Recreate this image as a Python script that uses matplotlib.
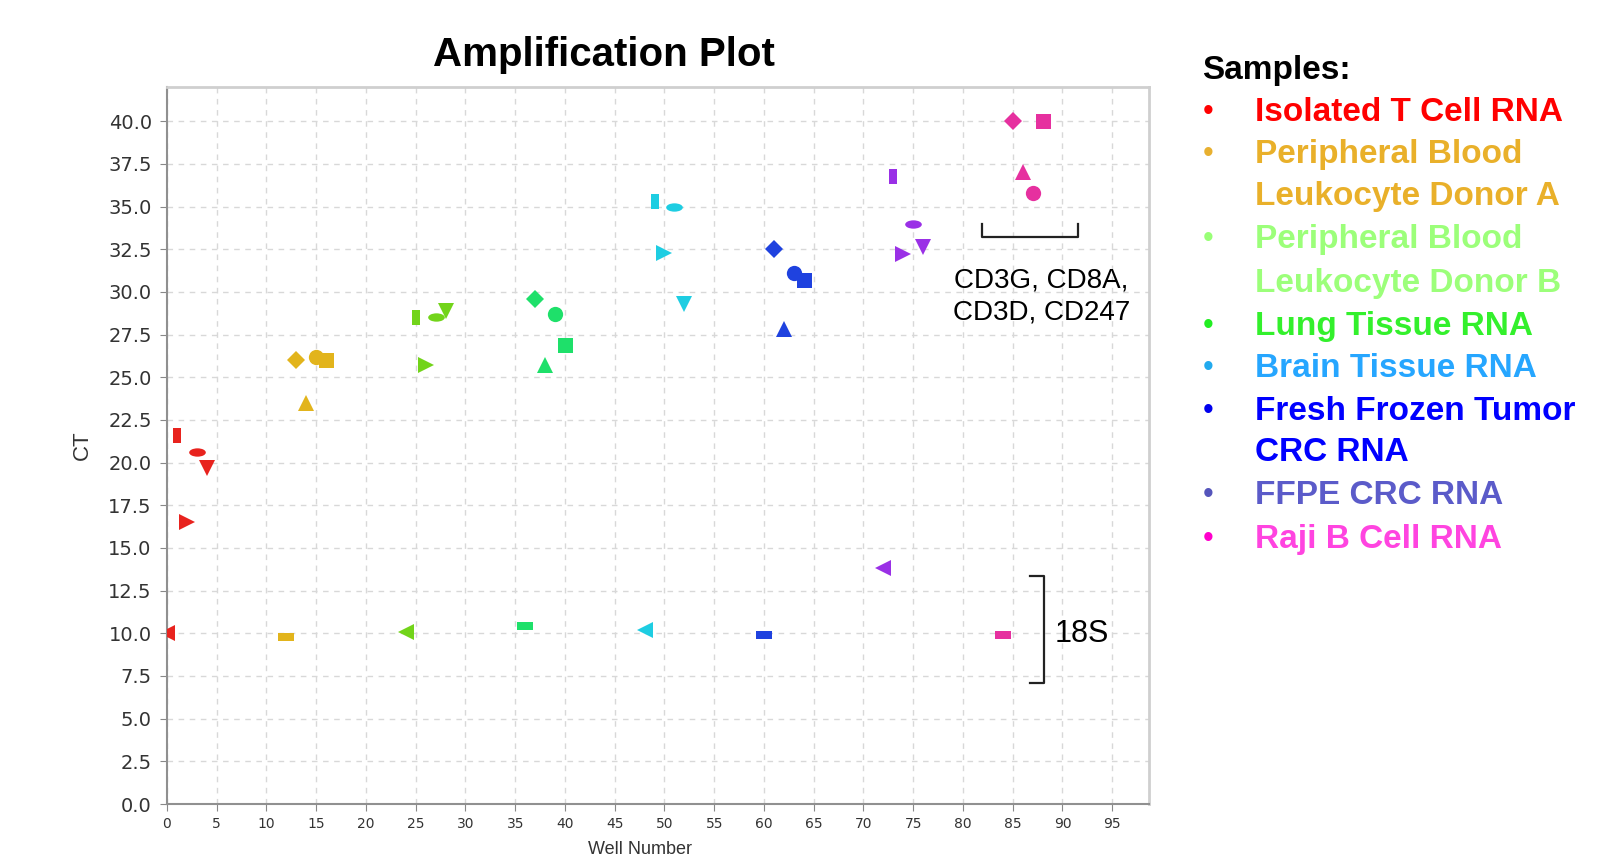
#!/usr/bin/env python3
"""Amplification plot: Ct per well, grouped by sample type."""
import matplotlib
matplotlib.use("Agg")
import matplotlib.pyplot as plt
from matplotlib.path import Path
from matplotlib.transforms import Affine2D

# ---- data (well number, Ct) per sample ----
tcell_wells = [0, 1, 2, 3, 4]
tcell_ct = [10.0, 21.6, 16.5, 20.6, 19.7]
pbl_a_wells = [12, 13, 14, 15, 16]
pbl_a_ct = [9.8, 26.0, 23.5, 26.2, 26.0]
pbl_b_wells = [24, 25, 26, 27, 28]
pbl_b_ct = [10.1, 28.5, 25.7, 28.5, 28.9]
lung_wells = [36, 37, 38, 39, 40]
lung_ct = [10.4, 29.6, 25.7, 28.7, 26.9]
brain_wells = [48, 49, 50, 51, 52]
brain_ct = [10.2, 35.3, 32.3, 35.0, 29.3]
frozen_wells = [60, 61, 62, 63, 64]
frozen_ct = [9.9, 32.5, 27.8, 31.1, 30.7]
ffpe_wells = [72, 73, 74, 75, 76]
ffpe_ct = [13.85, 36.8, 32.2, 34.0, 32.6]
raji_wells = [84, 85, 86, 87, 88]
raji_ct = [9.9, 40.0, 37.0, 35.8, 40.0]

legend_lines = ["Isolated T Cell RNA", "Peripheral Blood", "Leukocyte Donor A",
                "Peripheral Blood", "Leukocyte Donor B", "Lung Tissue RNA",
                "Brain Tissue RNA", "Fresh Frozen Tumor", "CRC RNA",
                "FFPE CRC RNA", "Raji B Cell RNA"]
x_ticks = list(range(0, 100, 5))
y_ticks = [i * 2.5 for i in range(17)]

# ---- styles ----
marker_colors = ["#e8231e", "#e2b41c", "#72d41a", "#1ee06a",
                 "#1ecde2", "#1f42df", "#9a30e6", "#e6309f"]
legend_colors = ["#ff0000", "#e9b02a", "#e9b02a", "#9cff7a", "#9cff7a", "#33f02c",
                 "#26a6ff", "#0000ff", "#0000ff", "#5b5bc9", "#ff44e0"]
bullet_colors = ["#ff0000", "#e8b030", "#99ff77", "#22ee22",
                 "#22aaee", "#0000ee", "#5555bb", "#ff00cc"]

vrect = Path([(-0.28, -0.5), (0.28, -0.5), (0.28, 0.5), (-0.28, 0.5), (-0.28, -0.5)],
             [Path.MOVETO, Path.LINETO, Path.LINETO, Path.LINETO, Path.CLOSEPOLY])
hrect = Path([(-0.5, -0.25), (0.5, -0.25), (0.5, 0.25), (-0.5, 0.25), (-0.5, -0.25)],
             [Path.MOVETO, Path.LINETO, Path.LINETO, Path.LINETO, Path.CLOSEPOLY])
hellipse = Affine2D().scale(1.0, 0.5).transform_path(Path.unit_circle())

# marker shape + size per position within each block of five wells
pattern_a = [("<", 12.0), (vrect, 10.8), (">", 12.0), (hellipse, 12.0), ("v", 12.0)]
pattern_b = [(hrect, 11.0), ("D", 8.7), ("^", 12.0), ("o", 11.0), ("s", 10.8)]

groups = [
    (tcell_wells, tcell_ct, pattern_a),
    (pbl_a_wells, pbl_a_ct, pattern_b),
    (pbl_b_wells, pbl_b_ct, pattern_a),
    (lung_wells, lung_ct, pattern_b),
    (brain_wells, brain_ct, pattern_a),
    (frozen_wells, frozen_ct, pattern_b),
    (ffpe_wells, ffpe_ct, pattern_a),
    (raji_wells, raji_ct, pattern_b),
]

plt.rcParams["font.family"] = ["Liberation Sans", "DejaVu Sans"]

W, H = 1606, 855
fig = plt.figure(figsize=(W / 100, H / 100), dpi=100)
ax = fig.add_axes([167 / W, 1 - 804 / H, (1149 - 167) / W, (804 - 87) / H])

for (wells, cts, pattern), color in zip(groups, marker_colors):
    for w, c, (mk, ms) in zip(wells, cts, pattern):
        ax.plot([w], [c], linestyle="none", marker=mk, markersize=ms,
                color=color, markeredgewidth=0, zorder=3)

ax.set_xlim(0, 98.7)
ax.set_ylim(0, 42)
ax.set_xticks(x_ticks)
ax.set_yticks(y_ticks)
ax.set_yticklabels([f"{v:.1f}" for v in y_ticks])
ax.tick_params(axis="y", labelsize=14, colors="#888888", labelcolor="#333333",
               length=5, pad=6, labelfontfamily="DejaVu Sans")
ax.tick_params(axis="x", labelsize=10, colors="#888888", labelcolor="#333333",
               length=5, pad=4, labelfontfamily="DejaVu Sans")
ax.grid(True, color="#d8d8d8", linestyle=(0, (4, 4)), linewidth=1.0)
ax.set_axisbelow(True)
for side in ["left", "bottom"]:
    ax.spines[side].set_color("#909090")
    ax.spines[side].set_linewidth(1.5)
for side in ["top", "right"]:
    ax.spines[side].set_color("#cfcfcf")
    ax.spines[side].set_linewidth(2)

# annotation brackets
ax.plot([81.9, 81.9, 91.6, 91.6], [34.0, 33.2, 33.2, 34.0], color="#222222", lw=1.6,
        zorder=4, solid_joinstyle="round")
ax.text(87.9, 29.7, "CD3G, CD8A,\nCD3D, CD247", ha="center", va="center",
        fontsize=20, linespacing=1.3, color="black")
ax.plot([86.7, 88.1, 88.1, 86.7], [13.35, 13.35, 7.08, 7.08], color="#222222", lw=1.6,
        zorder=4, solid_joinstyle="round")
ax.text(89.2, 9.95, "18S", ha="left", va="center", fontsize=22, color="black")

fig.text(604 / W, 1 - 55 / H, "Amplification Plot", ha="center", va="center",
         fontsize=29, fontweight="bold")
fig.text(82 / W, 1 - 445 / H, "CT", rotation=90, ha="center", va="center",
         fontsize=16, color="#333333")
fig.text(640 / W, 1 - 849 / H, "Well Number", ha="center", va="center",
         fontsize=13, color="#333333")

# sample legend at right
fig.text(1202 / W, 1 - 70.5 / H, "Samples:", ha="left", va="center",
         fontsize=24, fontweight="bold", color="black")
row_y = [112.6, 154.6, 196.6, 239.6, 283.6, 326.6, 368.6, 411.6, 452.6, 495.6, 539.7]
bullet_rows = [0, 1, 3, 5, 6, 7, 9, 10]
for label, col, y in zip(legend_lines, legend_colors, row_y):
    fig.text(1254.6 / W, 1 - y / H, label, ha="left", va="center",
             fontsize=24, fontweight="bold", color=col)
for r, bc in zip(bullet_rows, bullet_colors):
    fig.text(1208.5 / W, 1 - (row_y[r] - 1) / H, "\u2022", ha="center", va="center",
             fontsize=22, color=bc)

fig.savefig("out.png", dpi=100)
